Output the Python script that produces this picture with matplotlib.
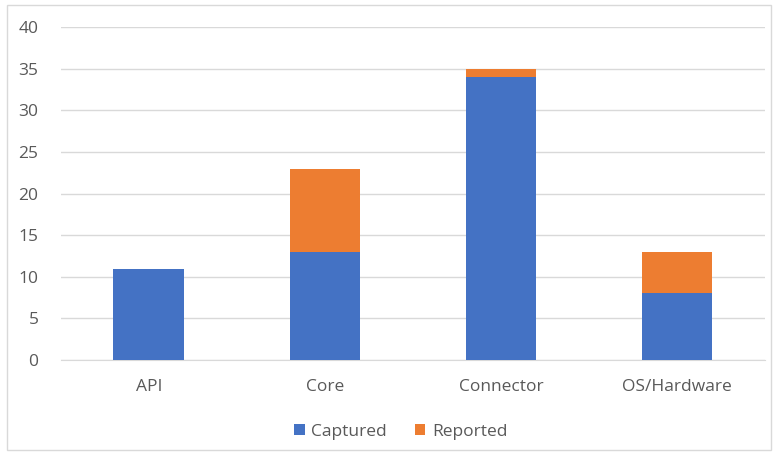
import numpy as np
import matplotlib.pyplot as plt
from matplotlib.patches import Rectangle

# Component categories and defect counts
categories = ['API', 'Core', 'Connector', 'OS/Hardware']
captured = [11, 13, 34, 8]
reported = [0, 10, 1, 5]

plt.rcParams['font.family'] = ['Open Sans', 'DejaVu Sans']

fig = plt.figure(figsize=(7.77, 4.54), dpi=100)
ax = fig.add_axes([0.078, 0.207, 0.907, 0.733])

x = np.arange(len(categories))
ax.bar(x, captured, width=0.4, color='#4472C4', label='Captured', zorder=3)
ax.bar(x, reported, width=0.4, bottom=captured, color='#ED7D31', label='Reported', zorder=3)

ax.set_xlim(-0.5, len(categories) - 0.5)
ax.set_ylim(0, 40)
ax.set_yticks(range(0, 41, 5))
ax.set_xticks(x)
ax.set_xticklabels(categories)
ax.yaxis.grid(True, color='#D9D9D9', linewidth=1, zorder=0)
for s in ['top', 'right', 'left']:
    ax.spines[s].set_visible(False)
ax.spines['bottom'].set_color('#D9D9D9')
ax.tick_params(axis='both', length=0, colors='#595959', labelsize=12.5)
ax.tick_params(axis='x', pad=14)
ax.tick_params(axis='y', pad=16)

ax.legend(loc='upper center', bbox_to_anchor=(0.483, -0.145), ncol=2, frameon=False,
          fontsize=12.5, labelcolor='#595959', handlelength=0.6, handleheight=0.6,
          columnspacing=1.6, handletextpad=0.4)

# Chart border
fig.patches.append(Rectangle((7 / 777, 4 / 454), 764 / 777, 445 / 454, transform=fig.transFigure,
                             fill=False, edgecolor='#D9D9D9', linewidth=1))

fig.savefig('out.png')
